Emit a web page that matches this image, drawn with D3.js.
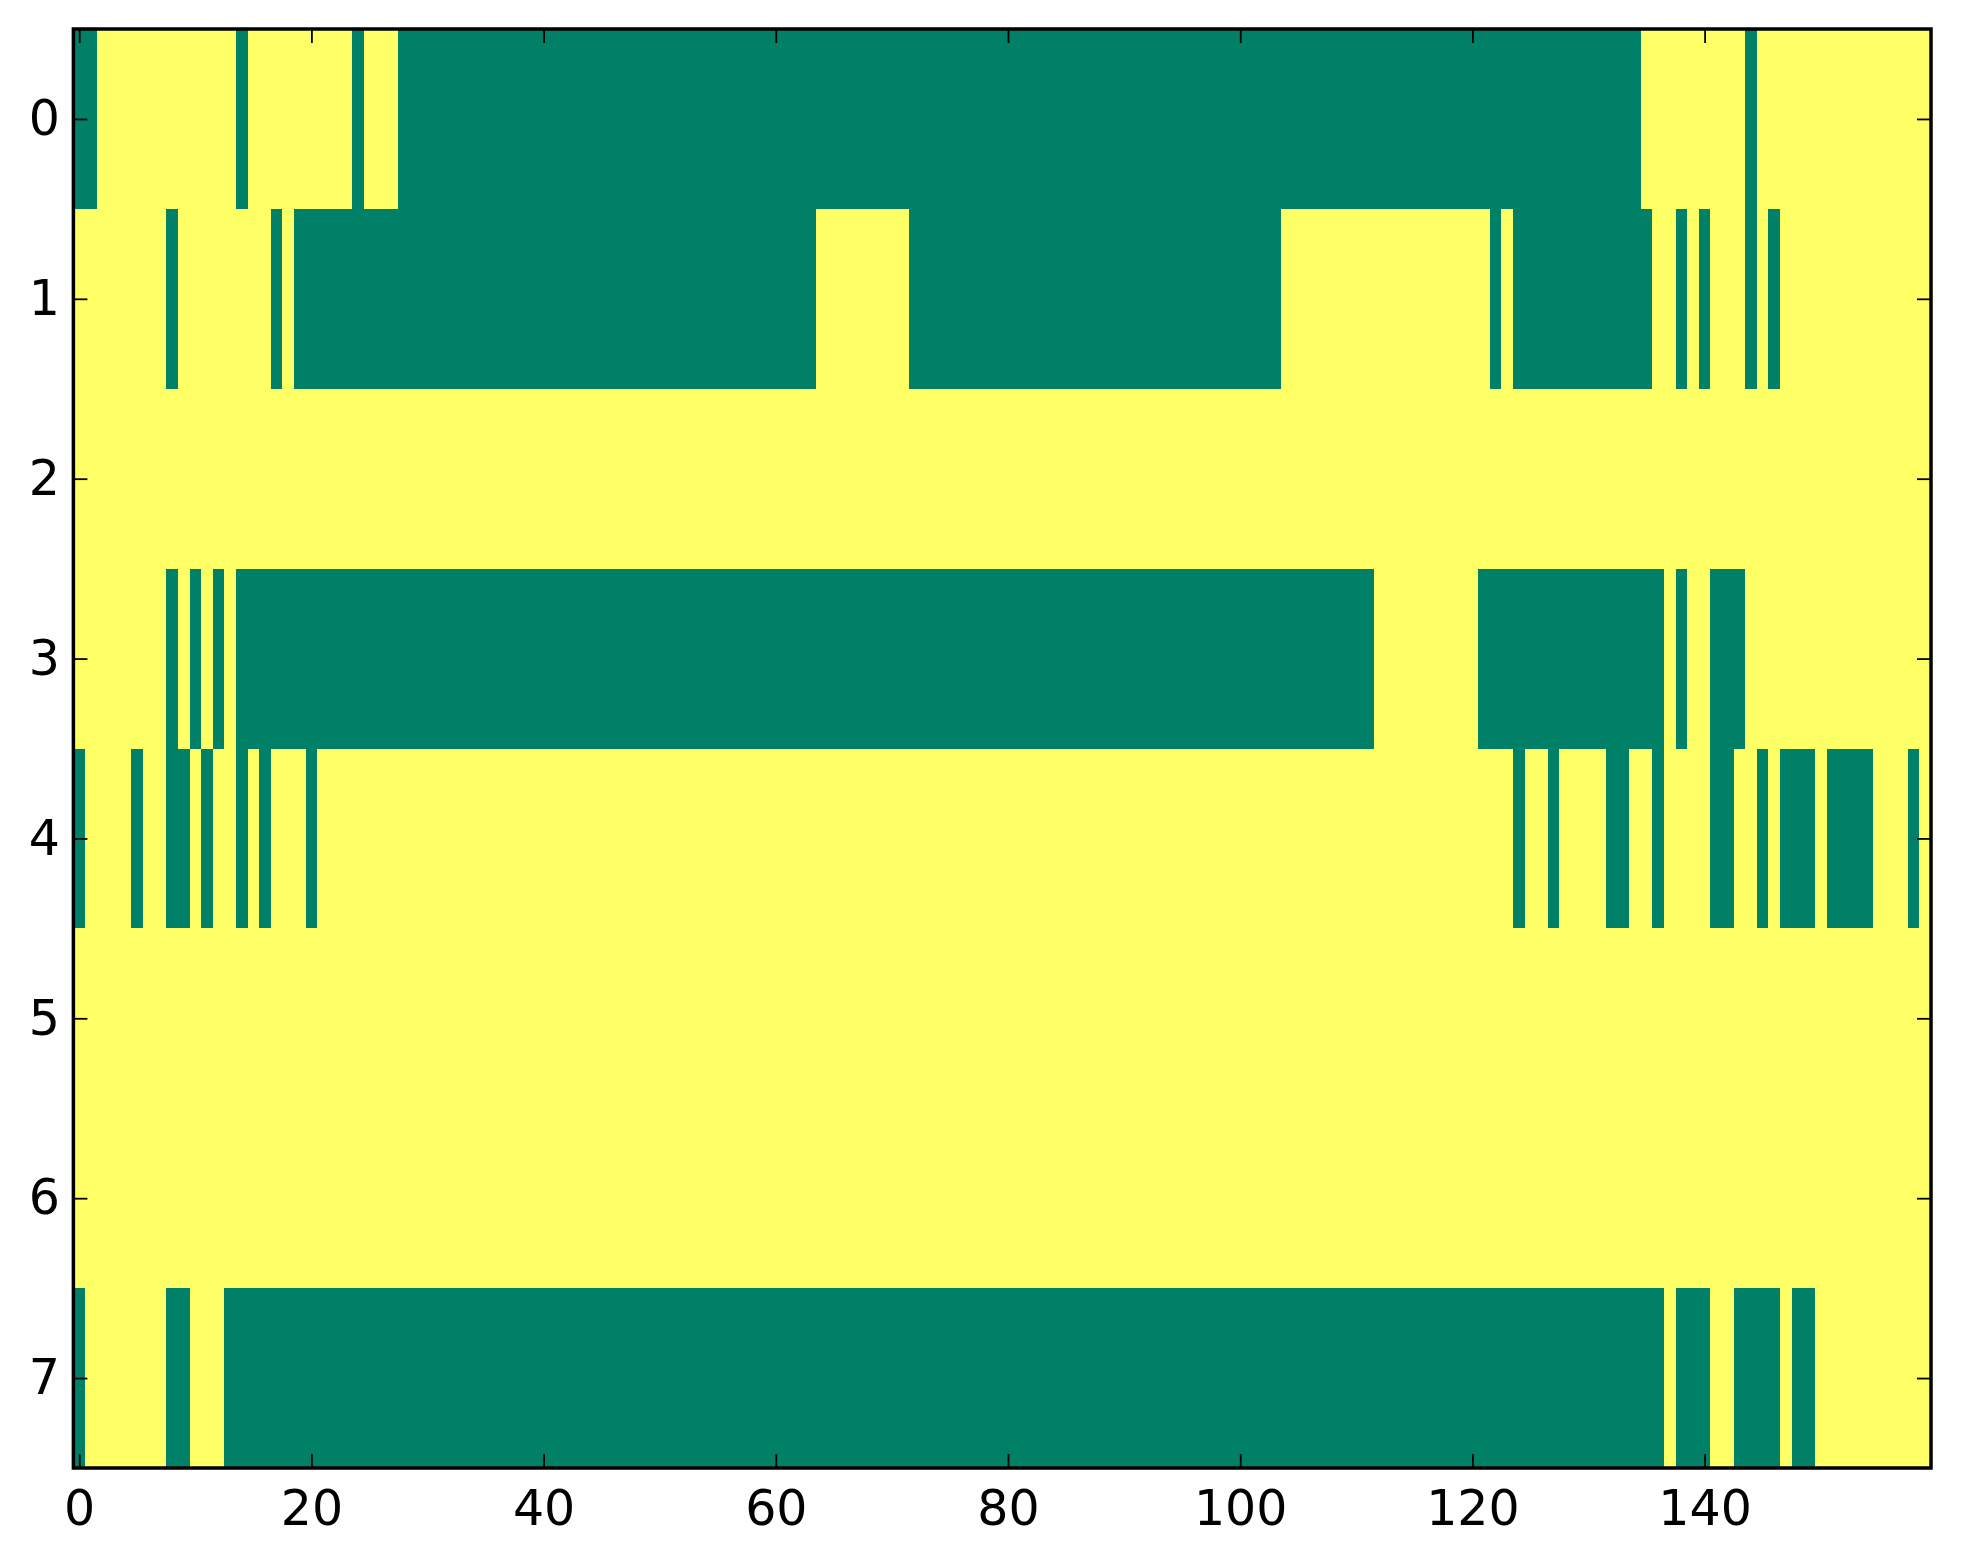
<!DOCTYPE html>
<html>
<head>
<meta charset="utf-8">
<script src="https://cdn.jsdelivr.net/npm/d3@7"></script>
<style>
  html, body { margin: 0; padding: 0; background: #ffffff; }
  svg { display: block; }
</style>
</head>
<body>
<svg id="chart" width="1963" height="1564"></svg>
<script>
// ---- Data: 8 rows x 160 columns, binary image (low value = green, high = yellow)
const nRows = 8;
const nCols = 160;
// green (value 0) runs per row, inclusive [start, end]; all other cells are yellow (value 1)
const row0Green = [[0,1],[14,14],[24,24],[28,134],[144,144]];
const row1Green = [[8,8],[17,17],[19,63],[72,103],[122,122],[124,135],[138,138],[140,140],[144,144],[146,146]];
const row2Green = [];
const row3Green = [[8,8],[10,10],[12,12],[14,111],[121,136],[138,138],[141,143]];
const row4Green = [[0,0],[5,5],[8,9],[11,11],[14,14],[16,16],[20,20],[124,124],[127,127],[132,133],[136,136],[141,142],[145,145],[147,149],[151,154],[158,158]];
const row5Green = [];
const row6Green = [];
const row7Green = [[0,0],[8,9],[13,136],[138,140],[143,146],[148,149]];
const xTickValues = [0, 20, 40, 60, 80, 100, 120, 140];
const yTickValues = [0, 1, 2, 3, 4, 5, 6, 7];

const greenRuns = [row0Green, row1Green, row2Green, row3Green, row4Green, row5Green, row6Green, row7Green];

// build cell table
const cells = [];
for (let r = 0; r < nRows; r++) {
  for (let c = 0; c < nCols; c++) {
    const isGreen = greenRuns[r].some(([a, b]) => c >= a && c <= b);
    cells.push({ row: r, col: c, value: isGreen ? 0 : 1 });
  }
}

// ---- Layout
const plotLeft = 73.4, plotRight = 1931, plotTop = 29, plotBottom = 1468;
const svg = d3.select("#chart");

const x = d3.scaleLinear().domain([-0.5, nCols - 0.5]).range([plotLeft, plotRight]);
const y = d3.scaleLinear().domain([-0.5, nRows - 0.5]).range([plotTop, plotBottom]);
// matplotlib "summer" colormap
const color = d3.scaleLinear().domain([0, 1]).range(["#008066", "#ffff66"]);

svg.append("g")
  .attr("shape-rendering", "crispEdges")
  .selectAll("rect")
  .data(cells)
  .join("rect")
  .attr("x", d => x(d.col - 0.5))
  .attr("y", d => y(d.row - 0.5))
  .attr("width", d => x(d.col + 0.5) - x(d.col - 0.5))
  .attr("height", d => y(d.row + 0.5) - y(d.row - 0.5))
  .attr("fill", d => color(d.value));

// ---- Axes (ticks pointing inward on all four sides)
const tickLen = 14;
const fontSize = 49;
const fontFamily = "'DejaVu Sans', sans-serif";

function styleAxis(g) {
  g.select(".domain").remove();
  g.selectAll(".tick line").attr("stroke", "#000").attr("stroke-width", 1.8);
  g.selectAll(".tick text").attr("font-family", fontFamily).attr("font-size", fontSize).attr("fill", "#000");
}

const xBottom = svg.append("g")
  .attr("transform", `translate(0,${plotBottom})`)
  .call(d3.axisBottom(x).tickValues(xTickValues).tickSizeInner(-tickLen).tickSizeOuter(0).tickPadding(22).tickFormat(d3.format("d")));
styleAxis(xBottom);
xBottom.selectAll(".tick text").attr("dy", "0.71em");

const xTop = svg.append("g")
  .attr("transform", `translate(0,${plotTop})`)
  .call(d3.axisTop(x).tickValues(xTickValues).tickSizeInner(-tickLen).tickSizeOuter(0).tickFormat(""));
styleAxis(xTop);

const yLeft = svg.append("g")
  .attr("transform", `translate(${plotLeft},0)`)
  .call(d3.axisLeft(y).tickValues(yTickValues).tickSizeInner(-tickLen).tickSizeOuter(0).tickPadding(13.5).tickFormat(d3.format("d")));
styleAxis(yLeft);

const yRight = svg.append("g")
  .attr("transform", `translate(${plotRight},0)`)
  .call(d3.axisRight(y).tickValues(yTickValues).tickSizeInner(-tickLen).tickSizeOuter(0).tickFormat(""));
styleAxis(yRight);

// frame
svg.append("rect")
  .attr("x", plotLeft).attr("y", plotTop)
  .attr("width", plotRight - plotLeft).attr("height", plotBottom - plotTop)
  .attr("fill", "none").attr("stroke", "#000").attr("stroke-width", 3.5);
</script>
</body>
</html>
